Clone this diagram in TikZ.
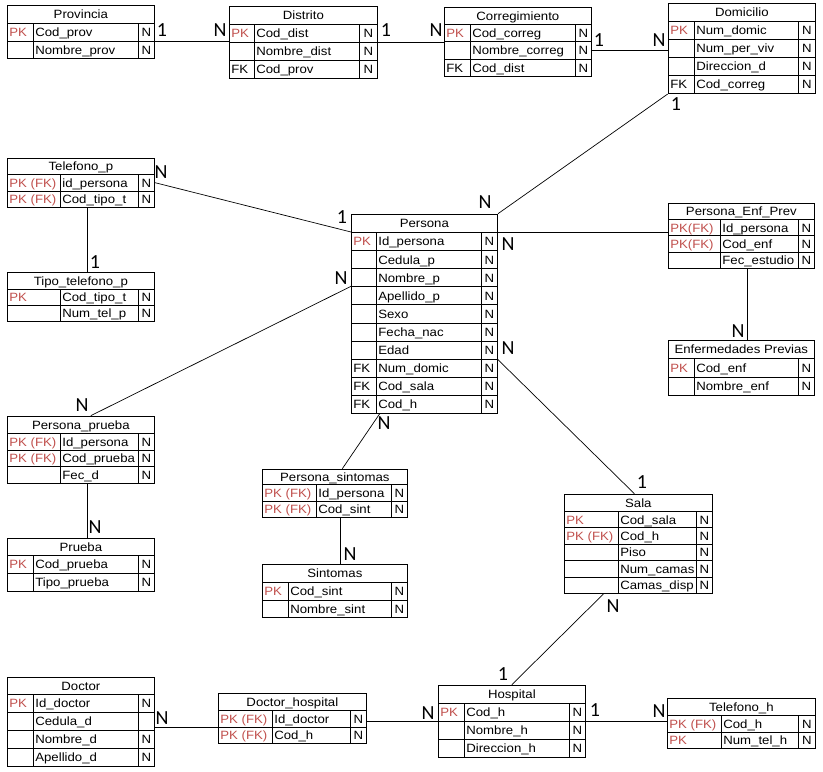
\documentclass[tikz,border=0pt]{standalone}
\usepackage{fontspec}
\setmainfont{Liberation Sans}[FakeStretch=1.1]
\newfontfamily\cardfont{Carlito}
\usetikzlibrary{fit}
\definecolor{pkred}{RGB}{192,80,77}
\newcommand\pkc{\color{pkred}}
\tikzset{
  cell/.style={draw, line width=0.7pt, inner xsep=2pt, inner ysep=0pt,
    text height=10.5pt, text depth=1.5pt, anchor=north west,
    font=\fontsize{12}{14}\selectfont},
  frame/.style={draw, line width=0.7pt, inner sep=0pt},
  conn/.style={line width=0.7pt},
  card/.style={font=\cardfont\fontsize{20}{22}\selectfont, inner sep=0pt},
}
% \ertable{name}{x,y}{key width}{field width}{mark width}{header height}{row height}{title}{rows key/field/mark}
\newcommand\ertable[9]{%
  \begin{scope}[shift={(#2)}]
    \node[cell, minimum width=#3+#4+#5, minimum height=#6] (#1-h) at (0,0) {#8};
    \foreach \k/\f/\m [count=\i] in {#9} {
      \pgfmathsetmacro\yy{#6+(\i-1)*#7}
      \node[cell, minimum width=#3, minimum height=#7] (#1-k\i) at (0,\yy)
        {\makebox[\dimexpr#3pt-4pt\relax][l]{\k}};
      \node[cell, minimum width=#4, minimum height=#7] (#1-f\i) at (#3,\yy)
        {\makebox[\dimexpr#4pt-4pt\relax][l]{\f}};
      \node[cell, minimum width=#5, minimum height=#7] (#1-n\i) at (#3+#4,\yy)
        {\makebox[\dimexpr#5pt-4pt\relax][c]{\m}};
      \xdef\erlast{\i}
    }
  \end{scope}
  \node[frame, fit=(#1-h.north west)(#1-n\erlast.south east)] (#1) {};
}
\begin{document}
\begin{tikzpicture}[x=1pt, y=-1pt]
\useasboundingbox (0,0) rectangle (823,772);

% ---- entities ----
\ertable{prov}{7,5}{26}{105}{16}{18}{17.5}{Provincia}
  {\pkc PK/Cod\_prov/N, /Nombre\_prov/N}
\ertable{dist}{229,6}{25}{105}{18}{18}{18}{Distrito}
  {\pkc PK/Cod\_dist/N, /Nombre\_dist/N, FK/Cod\_prov/N}
\ertable{corr}{444,7}{26}{105}{16}{17}{17.3}{Corregimiento}
  {\pkc PK/Cod\_correg/N, /Nombre\_correg/N, FK/Cod\_dist/N}
\ertable{dom}{668,3}{26}{104}{17}{18}{18}{Domicilio}
  {\pkc PK/Num\_domic/N, /Num\_per\_viv/N, /Direccion\_d/N, FK/Cod\_correg/N}
\ertable{persona}{351,214}{25}{105}{16}{18}{18.1}{Persona}
  {\pkc PK/Id\_persona/N, /Cedula\_p/N, /Nombre\_p/N, /Apellido\_p/N, /Sexo/N,
   /Fecha\_nac/N, /Edad/N, FK/Num\_domic/N, FK/Cod\_sala/N, FK/Cod\_h/N}
\ertable{telp}{7,158}{53}{78}{16}{16}{16.5}{Telefono\_p}
  {\pkc PK (FK)/id\_persona/N, \pkc PK (FK)/Cod\_tipo\_t/N}
\ertable{tipo}{7,272}{53}{78}{16}{17}{16}{Tipo\_telefono\_p}
  {\pkc PK/Cod\_tipo\_t/N, /Num\_tel\_p/N}
\ertable{enfprev}{668,203}{52}{78}{16}{16}{16.3}{Persona\_Enf\_Prev}
  {\pkc PK(FK)/Id\_persona/N, \pkc PK(FK)/Cod\_enf/N, /Fec\_estudio/N}
\ertable{enf}{668,340}{26}{104}{16}{18}{18.5}{Enfermedades Previas}
  {\pkc PK/Cod\_enf/N, /Nombre\_enf/N}
\ertable{pp}{7,416}{53}{78}{16}{17}{16.5}{Persona\_prueba}
  {\pkc PK (FK)/Id\_persona/N, \pkc PK (FK)/Cod\_prueba/N, /Fec\_d/N}
\ertable{prueba}{7,538}{26}{105}{16}{17}{18}{Prueba}
  {\pkc PK/Cod\_prueba/N, /Tipo\_prueba/N}
\ertable{psint}{262,469}{54}{75}{16}{15}{16.5}{Persona\_sintomas}
  {\pkc PK (FK)/Id\_persona/N, \pkc PK (FK)/Cod\_sint/N}
\ertable{sint}{262,564}{26}{103}{16}{18}{17.5}{Sintomas}
  {\pkc PK/Cod\_sint/N, /Nombre\_sint/N}
\ertable{sala}{564,494}{54}{78}{16}{17}{16.4}{Sala}
  {\pkc PK/Cod\_sala/N, \pkc PK (FK)/Cod\_h/N, /Piso/N, /Num\_camas/N, /Camas\_disp/N}
\ertable{hosp}{438,685}{26}{105}{16}{18}{18}{Hospital}
  {\pkc PK/Cod\_h/N, /Nombre\_h/N, /Direccion\_h/N}
\ertable{telh}{667,698}{54}{77}{17}{17}{16.5}{Telefono\_h}
  {\pkc PK (FK)/Cod\_h/N, \pkc PK/Num\_tel\_h/N}
\ertable{doctor}{7,677}{26}{105}{16}{17}{18}{Doctor}
  {\pkc PK/Id\_doctor/N, /Cedula\_d/, /Nombre\_d/N, /Apellido\_d/N}
\ertable{dh}{218,693}{54}{78}{16}{17}{16.5}{Doctor\_hospital}
  {\pkc PK (FK)/Id\_doctor/N, \pkc PK (FK)/Cod\_h/N}

% ---- relationships ----
\draw[conn] (prov-n1.south east) -- (prov-n1.south east -| dist.west);
\draw[conn] (dist-n1.south east) -- (dist-n1.south east -| corr.west);
\draw[conn] (corr-n2.east) -- (corr-n2.east -| dom.west);
\draw[conn] (dom.south west) -- (persona.north east);
\draw[conn] (telp-n1.east) -- (persona-k1.north west);
\draw[conn] ([xshift=6]telp.south) -- ([xshift=6]tipo.north);
\draw[conn] (persona-k4.north west) -- ([xshift=10]pp.north);
\draw[conn] ([xshift=6]pp.south) -- ([xshift=6]prueba.north);
\draw[conn] ([xshift=3]persona-k10.south east) -- ([xshift=7.5]psint.north);
\draw[conn] ([xshift=5.5]psint.south) -- ([xshift=5.5]sint.north);
\draw[conn] (persona-n1.north east) -- (persona-n1.north east -| enfprev.west);
\draw[conn] ([xshift=6]enfprev.south) -- ([xshift=6]enf.north);
\draw[conn] (persona-n7.south east) -- ([xshift=-4]sala.north);
\draw[conn] ([xshift=-35]sala.south) -- (hosp.north);
\draw[conn] (hosp-k1.south east -| hosp.east) -- (hosp-k1.south east -| telh.west);
\draw[conn] (dh-k1.south west) -- (dh-k1.south west -| doctor.east);
\draw[conn] (hosp-k1.south west) -- (hosp-k1.south west -| dh.east);

% ---- cardinalities ----
\node[card] (c1) at (162,30) {1};
\node[card] (c2) at (220,30) {N};
\node[card] (c3) at (386,30) {1};
\node[card] (c4) at (436,30) {N};
\node[card] (c5) at (599,40) {1};
\node[card] (c6) at (659,40) {N};
\node[card] (c7) at (676,104) {1};
\node[card] (c8) at (485,202) {N};
\node[card] (c9) at (161,172) {N};
\node[card] (c10) at (342,217) {1};
\node[card] (c11) at (95,262) {1};
\node[card] (c12) at (341,278) {N};
\node[card] (c13) at (82,405) {N};
\node[card] (c14) at (95,527) {N};
\node[card] (c15) at (384,423) {N};
\node[card] (c16) at (350,554) {N};
\node[card] (c17) at (508,244) {N};
\node[card] (c18) at (738,331) {N};
\node[card] (c19) at (508,348) {N};
\node[card] (c20) at (642,482) {1};
\node[card] (c21) at (613,606) {N};
\node[card] (c22) at (503,674) {1};
\node[card] (c23) at (595,710) {1};
\node[card] (c24) at (659,711) {N};
\node[card] (c25) at (162,718) {N};
\node[card] (c26) at (428,713) {N};
\end{tikzpicture}
\end{document}
